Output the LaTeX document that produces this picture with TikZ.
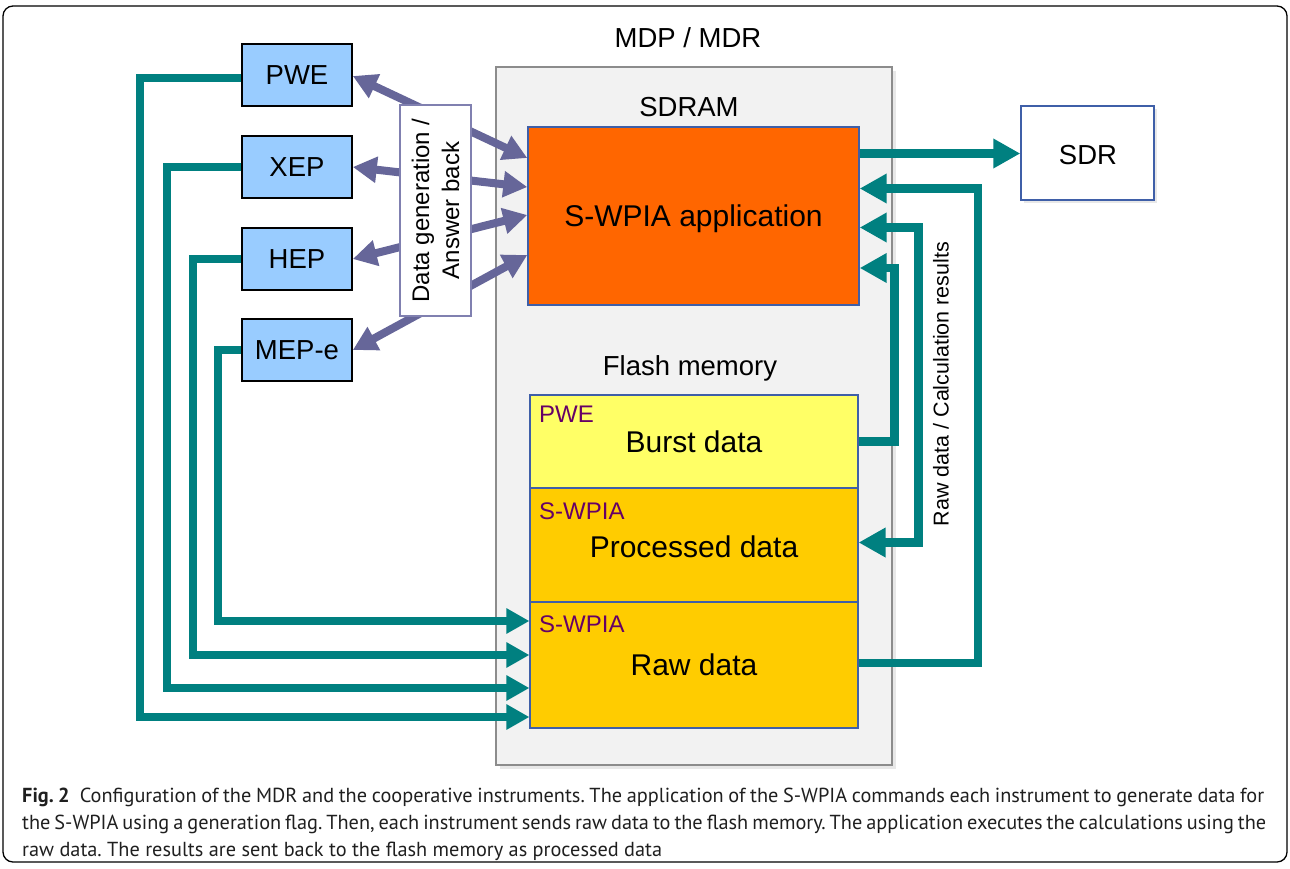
\documentclass[tikz,border=0pt]{standalone}
\usepackage{fontspec}
\setmainfont{Liberation Sans}
\newfontfamily\capfont{PT Sans}
\usetikzlibrary{arrows.meta,shadows,calc}
\definecolor{instblue}{HTML}{99CCFF}
\definecolor{apporange}{HTML}{FF6600}
\definecolor{burstyellow}{HTML}{FFFF66}
\definecolor{memgold}{HTML}{FFCC00}
\definecolor{linkteal}{HTML}{008080}
\definecolor{linkpurple}{HTML}{666699}
\definecolor{lblpurple}{HTML}{660066}
\definecolor{edgeblue}{HTML}{3F5FA8}
\definecolor{mdrgray}{HTML}{F2F2F2}
\definecolor{mdredge}{HTML}{8C8C8C}
\definecolor{dgedge}{HTML}{8080B0}
\frenchspacing
\begin{document}
\begin{tikzpicture}[x=1pt,y=-1pt,
  bigtxt/.style={font=\fontsize{27.5}{33}\selectfont},
  apptxt/.style={font=\fontsize{30}{36}\selectfont},
  instbox/.style={draw=black, line width=1.6pt, fill=instblue, minimum width=110pt, minimum height=62pt, inner sep=0pt, bigtxt},
  membox/.style={draw=edgeblue, line width=1.2pt, minimum width=328pt, inner sep=0pt, apptxt},
  memlbl/.style={anchor=west, text=lblpurple, font=\fontsize{24}{28}\selectfont, inner sep=0pt},
  teallink/.style={draw=linkteal, line width=7.5pt, -{Triangle[length=23pt,width=24pt]}},
  teallinkr/.style={draw=linkteal, line width=8.5pt, -{Triangle[length=27pt,width=28pt]}},
  plink/.style={draw=linkpurple, line width=8pt, {Triangle[length=24pt,width=25pt]}-{Triangle[length=24pt,width=25pt]}},
  capline/.style={anchor=base west, inner sep=0pt, font=\capfont\fontsize{20.3}{24}\selectfont, text=black!88}
]
\useasboundingbox (0,0) rectangle (1290,868);
% outer frame
\draw[line width=1.3pt, rounded corners=10pt] (3,6) rectangle (1287,862);

% named coordinates for connector levels
\foreach \n/\v in {a1/158,a2/187,a3/215,a4/255,r1/621,r2/655,r3/688,r4/717,
  s1/153.5,u1/188.5,u2/227.5,u3/268,p1/542.5,b1/441.5,w1/663,q78/78,q76/76}
  {\coordinate (\n) at (0,\v);}
\coordinate (xp) at (140,0);
\coordinate (xx) at (167,0);
\coordinate (xh) at (193,0);
\coordinate (xm) at (218,0);
\coordinate (xb) at (894.5,0);
\coordinate (xpr) at (918.5,0);
\coordinate (xr) at (978,0);

% MDR box
\node[draw=mdredge, line width=2pt, fill=mdrgray, minimum width=396pt, minimum height=698pt, inner sep=0pt,
  drop shadow={shadow xshift=4pt, shadow yshift=-4pt, opacity=0.18}] (mdr) at (694,416) {};
\node[bigtxt] (title) at (688,38) {MDP / MDR};
\node[bigtxt] (sdramlbl) at (689,107) {SDRAM};
\node[bigtxt] (flashlbl) at (690,368) {Flash memory};

% SDRAM application
\node[draw=edgeblue, line width=1.4pt, fill=apporange, minimum width=331pt, minimum height=178pt, inner sep=0pt] (app) at (693.5,216) {};
\node[apptxt, inner sep=0pt] (apptext) at (693.5,219) {S-WPIA application};

% flash memory blocks
\node[membox, fill=burstyellow, minimum height=93pt] (burst) at (694,441.5) {Burst data};
\node[membox, fill=memgold, minimum height=114pt] (proc) at (694,545) {};
\node[apptxt, inner sep=0pt] (proctext) at (694,547) {Processed data};
\node[membox, fill=memgold, minimum height=126pt] (raw) at (694,665) {Raw data};
\node[memlbl] (lbl1) at (539,414) {PWE};
\node[memlbl] (lbl2) at (539,511) {S-WPIA};
\node[memlbl] (lbl3) at (539,624) {S-WPIA};

% SDR
\node[draw=edgeblue, line width=1.4pt, fill=white, minimum width=133pt, minimum height=94pt, inner sep=0pt,
  drop shadow={shadow xshift=3pt, shadow yshift=-3pt, opacity=0.18}] (sdr) at (1087.5,153) {};
\node[bigtxt, inner sep=0pt] (sdrtext) at (1088,155) {SDR};

% instruments
\node[instbox] (pwe) at (297,75) {PWE};
\node[instbox] (xep) at (297,167) {XEP};
\node[instbox] (hep) at (297,259) {HEP};
\node[instbox] (mep) at (297,350) {MEP-e};

% teal links from instruments to raw data
\draw[teallink] (pwe.west |- q78) -- (xp |- q78) |- (raw.west |- r4);
\draw[teallink] (xep.west) -- (xx |- xep.west) |- (raw.west |- r3);
\draw[teallink] (hep.west) -- (xh |- hep.west) |- (raw.west |- r2);
\draw[teallink] (mep.west) -- (xm |- mep.west) |- (raw.west |- r1);

% teal links on the right
\draw[teallinkr] (app.east |- s1) -- (sdr.west |- s1);
\draw[teallinkr] (raw.east |- w1) -| (xr |- u1) -- (app.east |- u1);
\draw[teallinkr] (burst.east |- b1) -| (xb |- u3) -- (app.east |- u3);
\draw[teallinkr, {Triangle[length=27pt,width=28pt]}-{Triangle[length=27pt,width=28pt]}] (app.east |- u2) -- (xpr |- u2) -- (xpr |- p1) -- (proc.east |- p1);
\node[rotate=90, font=\fontsize{21.5}{26}\selectfont] (rdlbl) at (941,384) {Raw data / Calculation results};

% purple links
\draw[plink] (pwe.east |- q76) -- (app.west |- a1);
\draw[plink] (xep.east) -- (app.west |- a2);
\draw[plink] (hep.east) -- (app.west |- a3);
\draw[plink] (mep.east) -- (app.west |- a4);
\node[draw=dgedge, line width=1.4pt, fill=white, minimum width=71pt, minimum height=211pt, inner sep=0pt] (dg) at (435.5,210.5) {};
\node[rotate=90, align=center, font=\fontsize{24}{30}\selectfont] (dgtxt) at (dg.center) {Data generation /\\Answer back};

% caption
\node[capline] (cap1) at (22,802) {\makebox[1242pt][s]{\textbf{Fig.~2}\hspace{10pt}Configuration of the MDR and the cooperative instruments. The application of the S-WPIA commands each instrument to generate data for}};
\node[capline] (cap2) at (22,829) {\makebox[1244pt][s]{the S-WPIA using a generation flag. Then, each instrument sends raw data to the flash memory. The application executes the calculations using the}};
\node[capline] (cap3) at (22,856) {raw data. The results are sent back to the flash memory as processed data};
\end{tikzpicture}
\end{document}
